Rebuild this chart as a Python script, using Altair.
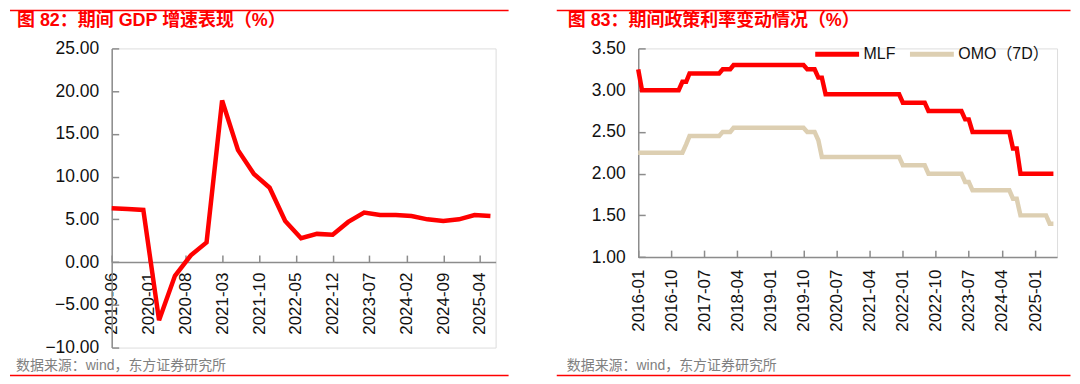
import altair as alt
import pandas as pd

FONT = "Liberation Sans, Arial, Noto Sans CJK SC, sans-serif"
RED = "#FF0000"
BEIGE = "#DDCFB2"
GREY = "#8C8C8C"

# ---------------- data: left panel (GDP growth, %) ----------------
gdp_dates = ["2019-06", "2019-09", "2019-12", "2020-03", "2020-06", "2020-09", "2020-12",
             "2021-03", "2021-06", "2021-09", "2021-12", "2022-03", "2022-06", "2022-09",
             "2022-12", "2023-03", "2023-06", "2023-09", "2023-12", "2024-03", "2024-06",
             "2024-09", "2024-12", "2025-03", "2025-06"]
gdp_values = [6.3, 6.2, 6.1, -6.8, -1.6, 0.8, 2.3,
              18.9, 13.1, 10.3, 8.7, 4.8, 2.8, 3.3,
              3.2, 4.7, 5.8, 5.5, 5.5, 5.4, 5.0,
              4.8, 5.0, 5.5, 5.4]
left_x_ticks = ["2019-06", "2020-01", "2020-08", "2021-03", "2021-10", "2022-05",
                "2022-12", "2023-07", "2024-02", "2024-09", "2025-04"]
left_y_ticks = [-10, -5, 0, 5, 10, 15, 20, 25]

# ---------------- data: right panel (policy rates, %) ----------------
rate_years = [2016, 2017, 2018, 2019, 2020, 2021, 2022, 2023, 2024, 2025]
mlf_by_year = [
    [3.25, 3.00, 3.00, 3.00, 3.00, 3.00, 3.00, 3.00, 3.00, 3.00, 3.00, 3.00],
    [3.10, 3.10, 3.20, 3.20, 3.20, 3.20, 3.20, 3.20, 3.20, 3.20, 3.20, 3.25],
    [3.25, 3.25, 3.30, 3.30, 3.30, 3.30, 3.30, 3.30, 3.30, 3.30, 3.30, 3.30],
    [3.30, 3.30, 3.30, 3.30, 3.30, 3.30, 3.30, 3.30, 3.30, 3.30, 3.25, 3.25],
    [3.25, 3.15, 3.15, 2.95, 2.95, 2.95, 2.95, 2.95, 2.95, 2.95, 2.95, 2.95],
    [2.95, 2.95, 2.95, 2.95, 2.95, 2.95, 2.95, 2.95, 2.95, 2.95, 2.95, 2.95],
    [2.85, 2.85, 2.85, 2.85, 2.85, 2.85, 2.85, 2.75, 2.75, 2.75, 2.75, 2.75],
    [2.75, 2.75, 2.75, 2.75, 2.75, 2.65, 2.65, 2.50, 2.50, 2.50, 2.50, 2.50],
    [2.50, 2.50, 2.50, 2.50, 2.50, 2.50, 2.30, 2.30, 2.00, 2.00, 2.00, 2.00],
    [2.00, 2.00, 2.00, 2.00, 2.00, 2.00],
]
omo_by_year = [
    [2.25, 2.25, 2.25, 2.25, 2.25, 2.25, 2.25, 2.25, 2.25, 2.25, 2.25, 2.25],
    [2.25, 2.35, 2.45, 2.45, 2.45, 2.45, 2.45, 2.45, 2.45, 2.45, 2.45, 2.50],
    [2.50, 2.50, 2.55, 2.55, 2.55, 2.55, 2.55, 2.55, 2.55, 2.55, 2.55, 2.55],
    [2.55, 2.55, 2.55, 2.55, 2.55, 2.55, 2.55, 2.55, 2.55, 2.55, 2.50, 2.50],
    [2.50, 2.40, 2.20, 2.20, 2.20, 2.20, 2.20, 2.20, 2.20, 2.20, 2.20, 2.20],
    [2.20, 2.20, 2.20, 2.20, 2.20, 2.20, 2.20, 2.20, 2.20, 2.20, 2.20, 2.20],
    [2.10, 2.10, 2.10, 2.10, 2.10, 2.10, 2.10, 2.00, 2.00, 2.00, 2.00, 2.00],
    [2.00, 2.00, 2.00, 2.00, 2.00, 1.90, 1.90, 1.80, 1.80, 1.80, 1.80, 1.80],
    [1.80, 1.80, 1.80, 1.80, 1.80, 1.80, 1.70, 1.70, 1.50, 1.50, 1.50, 1.50],
    [1.50, 1.50, 1.50, 1.50, 1.40, 1.40],
]
series_names = ["MLF", "OMO（7D）"]
right_x_ticks = ["2016-01", "2016-10", "2017-07", "2018-04", "2019-01", "2019-10", "2020-07",
                 "2021-04", "2022-01", "2022-10", "2023-07", "2024-04", "2025-01"]
right_y_ticks = [1.0, 1.5, 2.0, 2.5, 3.0, 3.5]

title_left = "图 82：期间 GDP 增速表现（%）"
title_right = "图 83：期间政策利率变动情况（%）"
source_text = "数据来源：wind，东方证券研究所"


# ---------------- helpers ----------------
def dt(s):
    y, m = s.split("-")
    return alt.DateTime(year=int(y), month=int(m), date=1)


def iso(s):
    return s + "-01T00:00:00"


def text_layer(txt, x, y, size, color, weight="normal"):
    return alt.Chart(alt.Data(values=[{"k": 0}])).mark_text(
        text=txt, align="left", baseline="middle", fontSize=size, font=FONT,
        color=color, fontWeight=weight
    ).encode(x=alt.value(x), y=alt.value(y))


def rule_layer(x1, x2, y):
    return alt.Chart(alt.Data(values=[{"k": 0}])).mark_rule(
        color=RED, strokeWidth=1.5
    ).encode(x=alt.value(x1), x2=alt.value(x2), y=alt.value(y))


# ---------------- left panel ----------------
LW, LH = 385, 300
zero_y = LH * 25 / 35

gdp_df = pd.DataFrame({"date": [iso(d) for d in gdp_dates], "value": gdp_values})
xs_l = alt.Scale(domain=[dt("2019-06"), dt("2025-07")])
ys_l = alt.Scale(domain=[-10, 25], nice=False, zero=False)

gdp_line = alt.Chart(gdp_df).mark_line(color=RED, strokeWidth=4.5).encode(
    x=alt.X("date:T", scale=xs_l, axis=alt.Axis(
        orient="bottom", offset=-(LH - zero_y), values=[dt(t) for t in left_x_ticks],
        format="%Y-%m", labelAngle=270, labelFontSize=17, labelFont=FONT,
        labelColor="#111111", labelPadding=10, ticks=False, domainColor=GREY,
        domainWidth=1.5, labelFlush=False, labelOverlap=False, title=None, grid=False)),
    y=alt.Y("value:Q", scale=ys_l, axis=alt.Axis(
        orient="left", values=left_y_ticks, format=".2f", labelFontSize=17.5,
        labelFont=FONT, labelColor="#111111", labelPadding=13, ticks=False,
        domainColor=GREY, domainWidth=1.5, title=None, grid=False)),
)
gdp_ticks = alt.Chart(gdp_df).mark_line(opacity=0).encode(
    x=alt.X("date:T", scale=xs_l, axis=alt.Axis(
        orient="top", offset=-zero_y, values=[dt(t) for t in left_x_ticks],
        labels=False, domain=False, tickSize=7, tickColor=GREY, tickWidth=1.5,
        title=None, grid=False)),
    y=alt.Y("value:Q", scale=ys_l, axis=alt.Axis(
        orient="right", offset=-LW, values=left_y_ticks, labels=False, domain=False,
        tickSize=7, tickColor=GREY, tickWidth=1.5, title=None, grid=False)),
)

left = alt.layer(
    gdp_line, gdp_ticks,
    rule_layer(-102, 398, -38),
    rule_layer(-102, 398, 328),
    text_layer(title_left, -95, -27.75, 18, RED, "bold"),
    text_layer(source_text, -96, 318, 14, "#808080"),
).resolve_axis(x="independent", y="independent").properties(width=LW, height=LH)

# ---------------- right panel ----------------
RW, RH = 420, 209.3
rows = []
for name, by_year in zip(series_names, [mlf_by_year, omo_by_year]):
    for yr, vals in zip(rate_years, by_year):
        for i, v in enumerate(vals):
            rows.append({"date": f"{yr}-{i + 1:02d}-01T00:00:00", "series": name, "value": v})
rate_df = pd.DataFrame(rows)

xs_r = alt.Scale(domain=[dt("2016-01"), dt("2025-07")])
ys_r = alt.Scale(domain=[1.0, 3.5], nice=False, zero=False)

rate_lines = alt.Chart(rate_df).mark_line(strokeWidth=4.5).encode(
    x=alt.X("date:T", scale=xs_r, axis=alt.Axis(
        orient="bottom", values=[dt(t) for t in right_x_ticks], format="%Y-%m",
        labelAngle=270, labelFontSize=17, labelFont=FONT, labelColor="#111111",
        labelPadding=12, ticks=False, domainColor=GREY, domainWidth=1.5,
        labelFlush=False, labelOverlap=False, title=None, grid=False)),
    y=alt.Y("value:Q", scale=ys_r, axis=alt.Axis(
        orient="left", values=right_y_ticks, format=".2f", labelFontSize=17.5,
        labelFont=FONT, labelColor="#111111", labelPadding=13, ticks=False,
        domainColor=GREY, domainWidth=1.5, title=None, grid=False)),
    color=alt.Color("series:N", scale=alt.Scale(domain=series_names, range=[RED, BEIGE]),
                    legend=alt.Legend(
                        orient="none", legendX=175, legendY=-19, direction="horizontal",
                        title=None, symbolType="stroke", symbolStrokeWidth=5,
                        symbolSize=1936, labelFontSize=16, labelFont=FONT,
                        labelColor="#111111", labelOffset=2, columnPadding=4, padding=0)),
    detail="series:N",
)
rate_ticks = alt.Chart(rate_df).mark_line(opacity=0).encode(
    x=alt.X("date:T", scale=xs_r, axis=alt.Axis(
        orient="top", offset=-RH, values=[dt(t) for t in right_x_ticks], labels=False,
        domain=False, tickSize=7, tickColor=GREY, tickWidth=1.5, title=None, grid=False)),
    y=alt.Y("value:Q", scale=ys_r, axis=alt.Axis(
        orient="right", offset=-RW, values=right_y_ticks, labels=False, domain=False,
        tickSize=7, tickColor=GREY, tickWidth=1.5, title=None, grid=False)),
    detail="series:N",
)

right = alt.layer(
    rate_lines, rate_ticks,
    rule_layer(-81.7, 433.5, -38),
    rule_layer(-81.7, 433.5, 328),
    text_layer(title_right, -70.7, -27.75, 18, RED, "bold"),
    text_layer(source_text, -71.7, 318, 14, "#808080"),
).resolve_axis(x="independent", y="independent").properties(width=RW, height=RH)

chart = alt.hconcat(left, right, spacing=45).properties(padding=0).resolve_legend(
    color="independent"
).resolve_scale(color="independent").configure_view(
    strokeWidth=0
).configure(background="white")

chart.save("out.html", embed_options={"renderer": "svg", "actions": False})
